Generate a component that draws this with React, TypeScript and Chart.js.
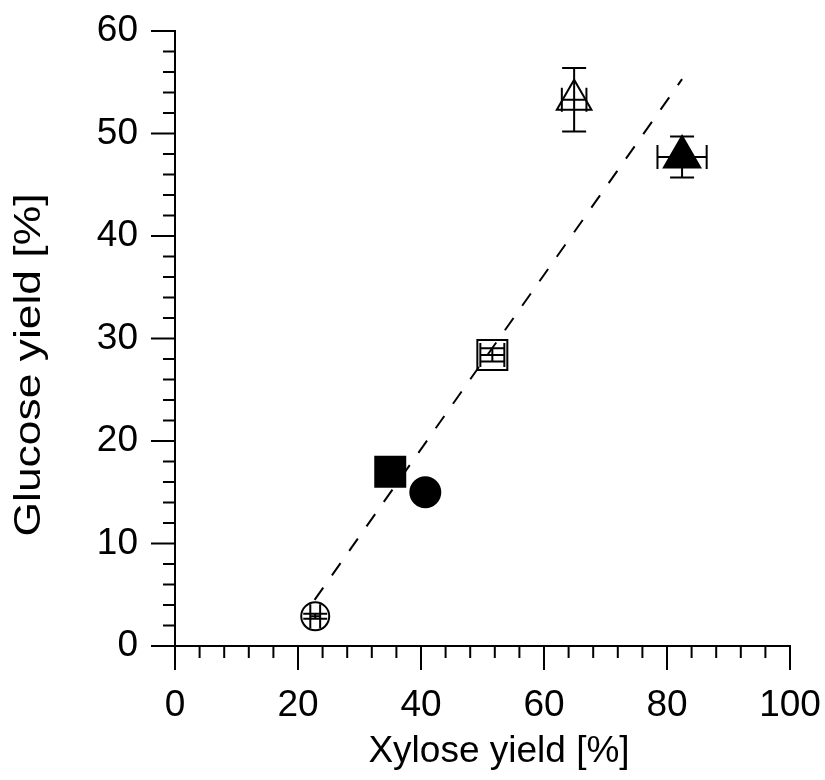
import React, { useEffect, useRef } from 'react';
import { Chart, registerables } from 'chart.js';

Chart.register(...registerables);

// ---- data ----
const xylose = [22.8, 35.0, 40.7, 51.6, 64.9, 82.45];
const glucose = [2.9, 17.0, 15.0, 28.4, 53.3, 47.7];
const xyloseErr = [0.8, 0, 0, 1.95, 2.0, 4.0];
const glucoseErr = [0.25, 0, 0, 0.65, 3.1, 2.0];
const fitXylose = [22.7, 82.45];
const fitGlucose = [4.5, 55.3];
const xTicks = [0, 20, 40, 60, 80, 100];
const yTicks = [0, 10, 20, 30, 40, 50, 60];
const xMinorStep = 4;
const yMinorStep = 2;
const xTitle = 'Xylose yield [%]';
const yTitle = 'Glucose yield [%]';

// ---- styles ----
const markerShape = ['circle', 'rect', 'circle', 'rect', 'triangle', 'triangle'];
const markerFilled = [false, true, true, false, false, true];
const markerRadius = [14, 21.2, 15, 21.2, 20, 21];

const FONT = "'Liberation Sans', Arial, Helvetica, sans-serif";
const FONT_SIZE = 37;
const MAJOR_LEN = 24;
const MINOR_LEN = 12;

const overlayPlugin = {
  id: 'overlay',
  afterDatasetsDraw(chart: any) {
    const ctx = chart.ctx;
    const xs = chart.scales.x;
    const ys = chart.scales.y;
    ctx.save();
    ctx.strokeStyle = '#000';
    ctx.lineWidth = 2;
    const cap = 12;
    for (let i = 0; i < xylose.length; i++) {
      const px = xs.getPixelForValue(xylose[i]);
      const py = ys.getPixelForValue(glucose[i]);
      if (xyloseErr[i] > 0) {
        const x1 = xs.getPixelForValue(xylose[i] - xyloseErr[i]);
        const x2 = xs.getPixelForValue(xylose[i] + xyloseErr[i]);
        ctx.beginPath();
        ctx.moveTo(x1, py); ctx.lineTo(x2, py);
        ctx.moveTo(x1, py - cap); ctx.lineTo(x1, py + cap);
        ctx.moveTo(x2, py - cap); ctx.lineTo(x2, py + cap);
        ctx.stroke();
      }
      if (glucoseErr[i] > 0) {
        const y1 = ys.getPixelForValue(glucose[i] - glucoseErr[i]);
        const y2 = ys.getPixelForValue(glucose[i] + glucoseErr[i]);
        ctx.beginPath();
        ctx.moveTo(px, y1); ctx.lineTo(px, y2);
        ctx.moveTo(px - cap, y1); ctx.lineTo(px + cap, y1);
        ctx.moveTo(px - cap, y2); ctx.lineTo(px + cap, y2);
        ctx.stroke();
      }
    }
    ctx.restore();
  },
  afterDraw(chart: any) {
    const ctx = chart.ctx;
    const xs = chart.scales.x;
    const ys = chart.scales.y;
    const area = chart.chartArea;
    ctx.save();
    ctx.strokeStyle = '#000';
    ctx.lineWidth = 2;
    ctx.lineCap = 'butt';
    ctx.beginPath();
    for (let v = xs.min; v <= xs.max + 1e-9; v += xMinorStep) {
      const isMajor = xTicks.some((t) => Math.abs(t - v) < 1e-6);
      const px = xs.getPixelForValue(v);
      ctx.moveTo(px, area.bottom);
      ctx.lineTo(px, area.bottom + (isMajor ? MAJOR_LEN : MINOR_LEN));
    }
    for (let v = ys.min; v <= ys.max + 1e-9; v += yMinorStep) {
      const isMajor = yTicks.some((t) => Math.abs(t - v) < 1e-6);
      const py = ys.getPixelForValue(v);
      ctx.moveTo(area.left, py);
      ctx.lineTo(area.left - (isMajor ? MAJOR_LEN : MINOR_LEN), py);
    }
    ctx.stroke();

    // axis titles
    ctx.fillStyle = '#000';
    ctx.font = `${FONT_SIZE}px ${FONT}`;
    ctx.textAlign = 'center';
    ctx.textBaseline = 'middle';
    ctx.fillText(xTitle, 499, 752);
    ctx.translate(30, 365);
    ctx.rotate(-Math.PI / 2);
    ctx.scale(1.2, 1);
    ctx.fillText(yTitle, 0, 0);
    ctx.restore();
  },
};

export default function App() {
  const canvasRef = useRef<HTMLCanvasElement | null>(null);

  useEffect(() => {
    if (!canvasRef.current) return;
    const datasets: any[] = [];
    datasets.push({
      type: 'line',
      label: 'fit',
      data: fitXylose.map((x, i) => ({ x, y: fitGlucose[i] })),
      borderColor: '#000',
      borderWidth: 2,
      borderDash: [15, 15],
      pointRadius: 0,
      fill: false,
      showLine: true,
      order: 0,
    });
    for (let i = 0; i < xylose.length; i++) {
      datasets.push({
        type: 'scatter',
        label: `s${i}`,
        data: [{ x: xylose[i], y: glucose[i] }],
        pointStyle: markerShape[i],
        pointRadius: markerRadius[i],
        pointHoverRadius: markerRadius[i],
        pointBorderWidth: 2,
        pointBorderColor: '#000',
        pointBackgroundColor: markerFilled[i] ? '#000' : 'rgba(0,0,0,0)',
        order: 1,
      });
    }

    const chart = new Chart(canvasRef.current, {
      type: 'scatter',
      data: { datasets },
      options: {
        animation: false,
        responsive: true,
        maintainAspectRatio: false,
        layout: { padding: { left: 0, top: 31, right: 35, bottom: 0 } },
        plugins: {
          legend: { display: false },
          tooltip: { enabled: false },
          title: { display: false },
        },
        events: [],
        scales: {
          x: {
            type: 'linear',
            min: 0,
            max: 100,
            afterBuildTicks: (scale: any) => {
              scale.ticks = xTicks.map((v) => ({ value: v }));
            },
            afterFit: (scale: any) => {
              scale.height = 780 - 646;
            },
            ticks: {
              color: '#000',
              font: { family: FONT, size: FONT_SIZE },
              padding: 0,
              maxRotation: 0,
              autoSkip: false,
            },
            grid: {
              drawOnChartArea: false,
              drawTicks: true,
              tickLength: 38,
              tickColor: 'rgba(0,0,0,0)',
              color: 'rgba(0,0,0,0)',
              lineWidth: 2,
            },
            border: { display: true, color: '#000', width: 2 },
            title: { display: false },
          },
          y: {
            type: 'linear',
            min: 0,
            max: 60,
            afterBuildTicks: (scale: any) => {
              scale.ticks = yTicks.map((v) => ({ value: v }));
            },
            afterFit: (scale: any) => {
              scale.width = 175;
            },
            ticks: {
              color: '#000',
              font: { family: FONT, size: FONT_SIZE },
              padding: 0,
              autoSkip: false,
            },
            grid: {
              drawOnChartArea: false,
              drawTicks: true,
              tickLength: 37,
              tickColor: 'rgba(0,0,0,0)',
              color: 'rgba(0,0,0,0)',
              lineWidth: 2,
            },
            border: { display: true, color: '#000', width: 2 },
            title: { display: false },
          },
        },
      },
      plugins: [overlayPlugin],
    } as any);

    return () => chart.destroy();
  }, []);

  return (
    <div style={{ position: 'absolute', left: 0, top: 0, width: 825, height: 780, background: '#fff' }}>
      <canvas ref={canvasRef} />
    </div>
  );
}
